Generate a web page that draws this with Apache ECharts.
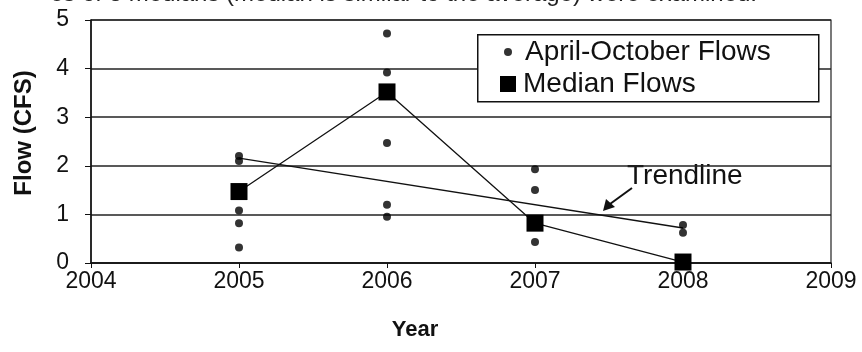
<!DOCTYPE html>
<html>
<head>
<meta charset="utf-8">
<script src="https://cdn.jsdelivr.net/npm/echarts@6/dist/echarts.min.js"></script>
<style>
  html, body { margin: 0; padding: 0; background: #fff; }
  #chart { width: 862px; height: 352px; }
</style>
</head>
<body>
<div id="chart"></div>
<script>
// monthly flows (April-October), one entry per dot
var flowYears  = [2005, 2005, 2005, 2005, 2005, 2006, 2006, 2006, 2006, 2006, 2007, 2007, 2007, 2007, 2008, 2008];
var flowValues = [2.2, 2.1, 1.08, 0.82, 0.32, 4.72, 3.92, 2.47, 1.2, 0.95, 1.93, 1.5, 0.75, 0.43, 0.78, 0.62];
// median flow per year
var medianYears  = [2005, 2006, 2007, 2008];
var medianValues = [1.47, 3.52, 0.82, 0.02];
// linear trendline end points
var trendYears  = [2005, 2008];
var trendValues = [2.16, 0.72];

var FONT = '"Liberation Sans", Arial, sans-serif';

function pairs(xs, ys) {
    var out = [];
    for (var i = 0; i < xs.length; i++) {
        out.push([xs[i], ys[i]]);
    }
    return out;
}

var chart = echarts.init(document.getElementById('chart'));

var option = {
    animation: false,
    backgroundColor: '#fff',
    grid: {
        left: 91, right: 31, top: 20, bottom: 89,
        show: true,
        borderColor: '#222',
        borderWidth: 1.2
    },
    xAxis: {
        type: 'value',
        min: 2004, max: 2009, interval: 1,
        axisLine: { lineStyle: { color: '#111', width: 1.5 } },
        axisTick: { show: true, length: 5, lineStyle: { color: '#111' } },
        axisLabel: {
            color: '#111', fontFamily: FONT, fontSize: 23, margin: 7,
            formatter: function (v) { return String(v); }
        },
        splitLine: { show: false }
    },
    yAxis: {
        type: 'value',
        min: 0, max: 5, interval: 1,
        axisLine: { show: true, lineStyle: { color: '#111', width: 1.5 } },
        axisTick: { show: true, length: 6, lineStyle: { color: '#111' } },
        axisLabel: { color: '#111', fontFamily: FONT, fontSize: 23, margin: 22 },
        splitLine: { show: true, lineStyle: { color: '#222', width: 1.5 } }
    },
    legend: [{
        data: ['April-October Flows'],
        left: 504, top: 37, padding: 0,
        itemWidth: 8, itemHeight: 8,
        icon: 'circle',
        textStyle: { color: '#111', fontFamily: FONT, fontSize: 28, lineHeight: 30, padding: [0, 0, 0, 8] }
    }, {
        data: ['Median Flows'],
        left: 500, top: 69, padding: 0,
        itemWidth: 16, itemHeight: 16,
        icon: 'rect',
        textStyle: { color: '#111', fontFamily: FONT, fontSize: 28, lineHeight: 30, padding: [0, 0, 0, 2] }
    }],
    series: [{
        name: 'Trendline',
        type: 'line',
        data: pairs(trendYears, trendValues),
        symbol: 'none',
        lineStyle: { color: '#111', width: 1.3 },
        z: 2
    }, {
        name: 'Median Flows',
        type: 'line',
        data: pairs(medianYears, medianValues),
        symbol: 'rect',
        symbolSize: 17,
        itemStyle: { color: '#000' },
        lineStyle: { color: '#111', width: 1.3 },
        z: 3
    }, {
        name: 'April-October Flows',
        type: 'scatter',
        data: pairs(flowYears, flowValues),
        symbol: 'circle',
        symbolSize: 8,
        itemStyle: { color: '#000' },
        z: 4
    }],
    graphic: [
        // caption text cut off at the top of the scan
        {
            type: 'text', right: 105, top: -18,
            style: { text: 'es of 3 medians (median is similar to the average) were examined.', fill: '#222', font: '24px ' + FONT }
        },
        // legend frame
        {
            type: 'rect', left: 477, top: 34, z: 1,
            shape: { width: 341, height: 67 },
            style: { fill: '#fff', stroke: '#111', lineWidth: 1.5 }
        },
        // y axis title
        {
            type: 'text', x: 24, y: 133, rotation: Math.PI / 2,
            style: { text: 'Flow (CFS)', fill: '#111', font: 'bold 24px ' + FONT, textAlign: 'center', textVerticalAlign: 'middle' }
        },
        // x axis title
        {
            type: 'text', x: 415, y: 330,
            style: { text: 'Year', fill: '#111', font: 'bold 22px ' + FONT, textAlign: 'center', textVerticalAlign: 'middle' }
        },
        // trendline annotation
        {
            type: 'text', x: 627, y: 176,
            style: { text: 'Trendline', fill: '#111', font: '28px ' + FONT, textVerticalAlign: 'middle' }
        },
        {
            type: 'line',
            shape: { x1: 632, y1: 188, x2: 610, y2: 204 },
            style: { stroke: '#111', lineWidth: 2 }
        },
        {
            type: 'polygon',
            shape: { points: [[603, 211], [606, 199], [615, 207]] },
            style: { fill: '#111' }
        }
    ]
};

chart.setOption(option);
</script>
</body>
</html>
